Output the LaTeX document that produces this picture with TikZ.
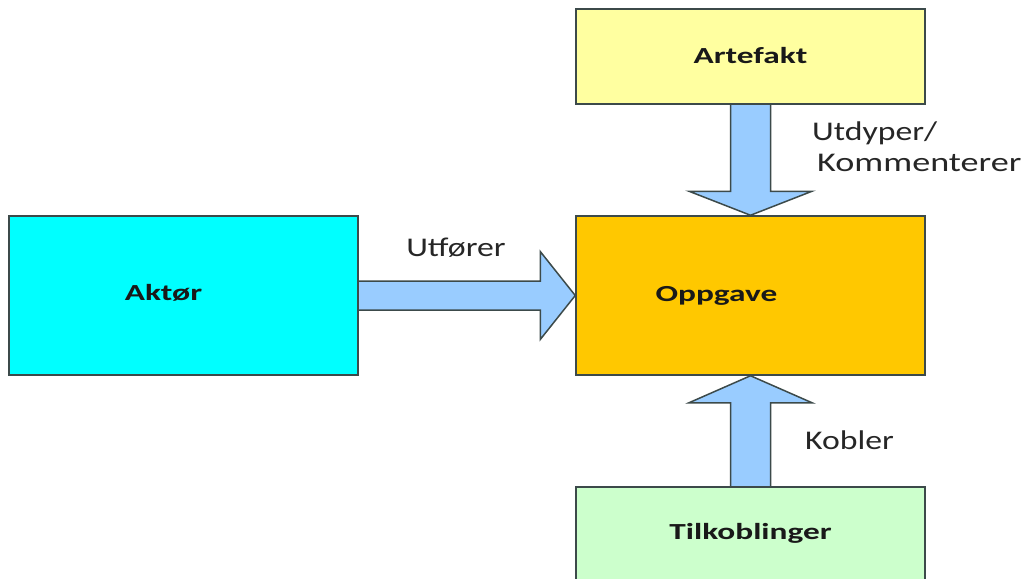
\documentclass[tikz,border=0pt]{standalone}
\usepackage{fontspec}
\usetikzlibrary{calc,backgrounds}
\newfontfamily\labfont[FakeStretch=1.25]{Carlito}
\newfontfamily\widelabfont[FakeStretch=1.34]{Carlito}
\newfontfamily\boxfont[FakeStretch=1.45]{Carlito Bold}
\definecolor{edgegray}{HTML}{3C4A4A}
\definecolor{actorcyan}{HTML}{00FFFF}
\definecolor{taskgold}{HTML}{FFC800}
\definecolor{artyellow}{HTML}{FFFFA0}
\definecolor{linkgreen}{HTML}{CCFFCC}
\definecolor{arrowblue}{HTML}{99CCFF}
\tikzset{
  entity/.style={draw=edgegray, line width=1.5pt, minimum width=349pt, inner sep=0pt},
  boxtext/.style={font=\boxfont\fontsize{23}{27}\selectfont, text=black!90},
  reltext/.style={font=\labfont\fontsize{27}{31}\selectfont, text=black!85, inner sep=0pt},
  fatarrow/.style={fill=arrowblue, draw=edgegray, line width=1.5pt, line join=miter}
}
\begin{document}
\begin{tikzpicture}[x=1pt, y=-1pt]
\useasboundingbox (0,0) rectangle (1027,578);
\clip (0,0) rectangle (1027,578);

% entities
\node[entity, fill=actorcyan, minimum height=159pt] (aktor) at (183.5,295.5) {};
\node[entity, fill=taskgold, minimum height=159pt] (oppgave) at (750.5,295.5) {};
\node[entity, fill=artyellow, minimum height=95pt] (artefakt) at (750.5,56.5) {};
\node[entity, fill=linkgreen, minimum height=120pt] (tilkob) at (750.5,547) {};

% entity names
\node[boxtext] at ($(aktor.center)+(-20,-3)$) {Aktør};
\node[boxtext] at ($(oppgave.center)+(-34,0)$) {Oppgave};
\node[boxtext] at ($(artefakt.center)+(0,-1)$) {Artefakt};
\node[boxtext] at (750.5,533) {Tilkoblinger};

% relation labels
\node[reltext] (lutf) at (456,248) {Utfører};
\node[reltext, anchor=west] (lutd) at (812,133) {Utdyper/};
\node[reltext, anchor=west, font=\widelabfont\fontsize{27}{31}\selectfont] (lkom) at (817,163) {Kommenterer};
\node[reltext, anchor=west] (lkob) at (805,440) {Kobler};

% block arrows between the entities
\begin{scope}[on background layer]
  % Aktør -> Oppgave
  \draw[fatarrow]
    ($(aktor.east)+(0,-14.5)$) -- ($(oppgave.west)+(-35,-14.5)$)
    -- ($(oppgave.west)+(-35,-44)$) -- (oppgave.west)
    -- ($(oppgave.west)+(-35,44)$) -- ($(oppgave.west)+(-35,14.5)$)
    -- ($(aktor.east)+(0,14.5)$);
  % Artefakt -> Oppgave
  \draw[fatarrow]
    ($(artefakt.south)+(-20,0)$) -- ($(oppgave.north)+(-20,-24)$)
    -- ($(oppgave.north)+(-61.5,-24)$) -- (oppgave.north)
    -- ($(oppgave.north)+(61.5,-24)$) -- ($(oppgave.north)+(20,-24)$)
    -- ($(artefakt.south)+(20,0)$);
  % Tilkoblinger -> Oppgave
  \draw[fatarrow]
    ($(tilkob.north)+(-20,0)$) -- ($(oppgave.south)+(-20,27)$)
    -- ($(oppgave.south)+(-61.5,27)$) -- (oppgave.south)
    -- ($(oppgave.south)+(61.5,27)$) -- ($(oppgave.south)+(20,27)$)
    -- ($(tilkob.north)+(20,0)$);
\end{scope}
\end{tikzpicture}
\end{document}
